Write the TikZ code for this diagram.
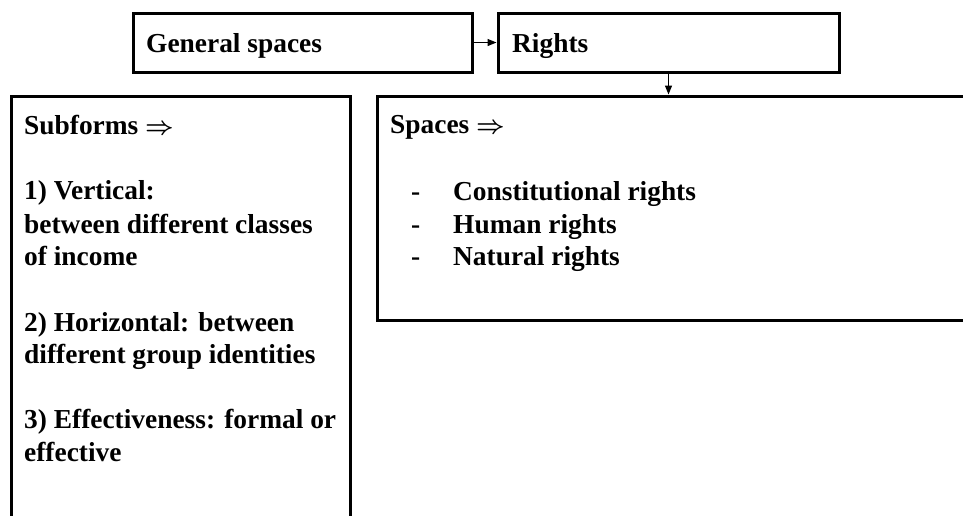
\documentclass[tikz,border=0pt]{standalone}
\usepackage{fontspec}
\setmainfont{Liberation Serif}
\usetikzlibrary{arrows.meta}
\tikzset{
  box/.style={draw=black, line width=3pt, rectangle, inner sep=0pt},
  txt/.style={anchor=base west, inner sep=0pt, font=\fontsize{27.4}{32}\selectfont\bfseries\boldmath},
  arr/.style={draw=black, line width=1.2pt, -{Triangle[length=9pt,width=7pt]}}
}
\begin{document}
\begin{tikzpicture}[x=1pt,y=-1pt]
\clip (0,0) rectangle (963,515);
\fill[white] (0,0) rectangle (963,515);
% boxes
\node[box, minimum width=339pt, minimum height=59pt] (gen) at (302.5,42.5) {};
\node[box, minimum width=341pt, minimum height=59pt] (rights) at (668.5,42.5) {};
\node[box, minimum width=339pt, minimum height=464pt] (sub) at (180.5,328) {};
\node[box, minimum width=623pt, minimum height=224pt] (spaces) at (688.5,208) {};
% connectors
\draw[arr] (gen.east) -- (rights.west);
\draw[arr] (rights.south) -- (rights.south |- spaces.north);
% texts
\node[txt] (tgen) at (146,52) {General spaces};
\node[txt] (trights) at (512,52) {Rights};
\node[txt] (l1) at (24,134) {Subforms $\Rightarrow$};
\node[txt] (l2) at (24,199) {1) Vertical:};
\node[txt] (l3) at (24,233) {between different classes};
\node[txt] (l4) at (24,265) {of income};
\node[txt] (l5) at (24,331) {2) Horizontal: between};
\node[txt] (l6) at (24,363) {different group identities};
\node[txt] (l7) at (24,428) {3) Effectiveness: formal or};
\node[txt] (l8) at (24,461) {effective};
\node[txt] (r1) at (390,133) {Spaces $\Rightarrow$};
\node[txt] (d1) at (411,200) {-};
\node[txt] (d2) at (411,233) {-};
\node[txt] (d3) at (411,265) {-};
\node[txt] (r2) at (453,200) {Constitutional rights};
\node[txt] (r3) at (453,233) {Human rights};
\node[txt] (r4) at (453,265) {Natural rights};
\end{tikzpicture}
\end{document}
